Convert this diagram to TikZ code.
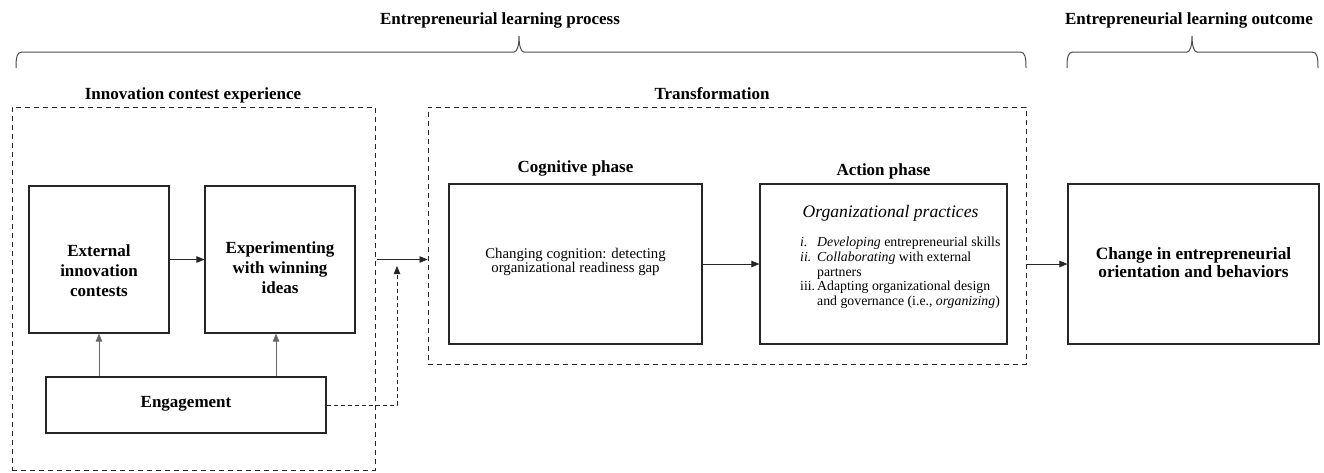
\documentclass[tikz,border=0pt]{standalone}
\usepackage{fontspec}
\setmainfont{Liberation Serif}
\usetikzlibrary{arrows.meta,calc}

\tikzset{
  linecol/.style={draw=black!85},
  solidbox/.style={linecol, line width=1.1pt, inner sep=0pt, rectangle},
  dashbox/.style={linecol, line width=0.9pt, dash pattern=on 5pt off 4pt, inner sep=0pt, rectangle},
  arr/.style={linecol, line width=0.8pt, -{Triangle[length=8pt,width=6.5pt]}},
  uparr/.style={draw=black!60, line width=0.8pt, -{Triangle[length=8pt,width=6.5pt]}},
  dasharr/.style={linecol, line width=0.8pt, dash pattern=on 4pt off 3pt, -{Triangle[length=8pt,width=6.5pt]}},
  bracepath/.style={draw=black!70, line width=1pt},
  head/.style={font=\fontsize{17}{20}\selectfont\bfseries, inner sep=0pt, anchor=base},
  boldtxt/.style={font=\fontsize{17}{20}\selectfont\bfseries, align=center, inner sep=0pt},
  plaintxt/.style={font=\fontsize{14.8}{14.5}\selectfont, align=center, inner sep=0pt},
}

\begin{document}
\begin{tikzpicture}[x=1pt, y=-1pt]
\useasboundingbox (0,0) rectangle (1324,472);

% headings above the braces
\node[head] (hproc) at (500,24) {Entrepreneurial learning process};
\node[head] (hout) at (1189,24) {Entrepreneurial learning outcome};

% braces
\draw[bracepath] (16,68) .. controls (16,57) and (17,52) .. (22,52) -- (514,52)
  .. controls (517,52) and (519,46) .. (519,36)
  .. controls (519,46) and (521,52) .. (524,52) -- (1020,52)
  .. controls (1025,52) and (1026,57) .. (1026,68);
\draw[bracepath] (1067,68) .. controls (1067,57) and (1068,52) .. (1073,52) -- (1187,52)
  .. controls (1190,52) and (1192,46) .. (1192,36)
  .. controls (1192,46) and (1194,52) .. (1197,52) -- (1312,52)
  .. controls (1317,52) and (1318,57) .. (1318,68);

% group frames and their titles
\node[head] (hice) at (193,99) {Innovation contest experience};
\node[head] (htr) at (712,99) {Transformation};
\node[dashbox, minimum width=363pt, minimum height=363pt] (ice) at (193.5,288.5) {};
\node[dashbox, minimum width=598pt, minimum height=257pt] (trans) at (727,235.5) {};

% innovation contest experience
\node[solidbox, minimum width=140pt, minimum height=147pt] (ext) at (99,259.5) {};
\node[boldtxt] (extT) at (99,271) {External\\innovation\\contests};
\node[solidbox, minimum width=150pt, minimum height=147pt] (exp) at (280,259.5) {};
\node[boldtxt] (expT) at (280,268) {Experimenting\\with winning\\ideas};
\node[solidbox, minimum width=280pt, minimum height=56pt] (eng) at (186,405) {};
\node[boldtxt] (engT) at (186,404) {Engagement};

% transformation phases
\node[head] (hcog) at (575.5,172.5) {Cognitive phase};
\node[head] (hact) at (883.5,175) {Action phase};
\node[solidbox, minimum width=253pt, minimum height=160pt] (cog) at (575.5,264) {};
\node[plaintxt] (cogT) at (575.5,262) {Changing cognition: detecting\\organizational readiness gap};
\node[solidbox, minimum width=247pt, minimum height=160pt] (act) at (883.5,264) {};
\node[inner sep=0pt, anchor=base, font=\fontsize{17.6}{20}\selectfont\itshape] (actH) at (890.5,217) {Organizational practices};
\node[inner sep=0pt, anchor=north west, font=\fontsize{13.8}{14.75}\selectfont] (actL) at (800,236.2) {%
  \begin{tabular}{@{}p{17pt}@{}l@{}}
  \textit{i.} & \textit{Developing} entrepreneurial skills\\
  \textit{ii.} & \textit{Collaborating} with external\\
   & partners\\
  iii. & Adapting organizational design\\
   & and governance (i.e., \textit{organizing})
  \end{tabular}};

% outcome
\node[solidbox, minimum width=251pt, minimum height=160pt] (chg) at (1193.5,264) {};
\node[boldtxt, font=\fontsize{17.3}{18}\selectfont\bfseries] (chgT) at (1193.5,263) {Change in entrepreneurial\\orientation and behaviors};

% connectors
\draw[arr] (ext.east) -- (exp.west);
\draw[uparr] (eng.north -| ext.south) -- (ext.south);
\coordinate (expfoot) at ($(exp.south)+(-4,0)$);
\draw[uparr] (eng.north -| expfoot) -- (expfoot);
\draw[arr] ([xshift=2pt]ice.east |- ext.east) -- (trans.west |- ext.east);
\coordinate (engtip) at (397,266);
\draw[dasharr] (eng.east) -- (eng.east -| engtip) -- (engtip);
\draw[arr] (cog.east) -- (act.west);
\draw[arr] (trans.east |- chg.west) -- (chg.west);
\end{tikzpicture}
\end{document}
